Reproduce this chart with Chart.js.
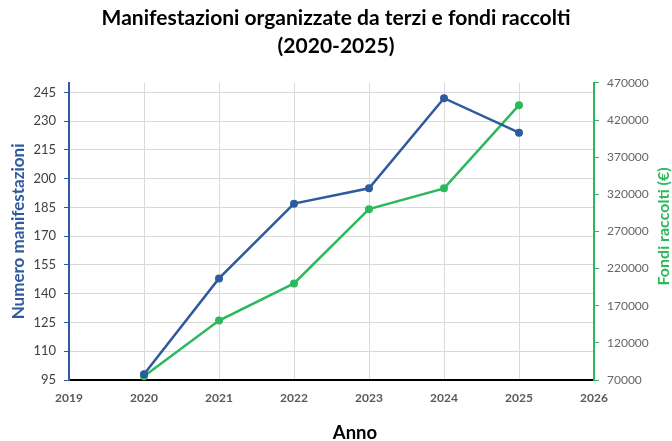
<!DOCTYPE html>
<html>
<head>
<meta charset="utf-8">
<script src="https://cdn.jsdelivr.net/npm/chart.js@4"></script>
<style>
  html, body { margin: 0; padding: 0; background: #fff; }
  #wrap { width: 672px; height: 441px; }
</style>
</head>
<body>
<div id="wrap"><canvas id="chart" width="672" height="441"></canvas></div>
<script>
// Data
const years = [2020, 2021, 2022, 2023, 2024, 2025];
const eventCounts = [98, 148, 187, 195, 242, 224];
const fundsRaised = [75000, 150000, 200000, 300000, 328000, 440000];
const leftTicks = [95, 110, 125, 140, 155, 170, 185, 200, 215, 230, 245];

const titleLines = ["Manifestazioni organizzate da terzi e fondi raccolti", "(2020-2025)"];
const blue = "#2F5A9E";
const green = "#2EB85C";
const fontFamily = "Lato, 'Open Sans', sans-serif";

// Right axis title reads bottom-to-top in the reference, and "Anno" sits a bit
// right of centre, so both are drawn by hand
const extraTitlesPlugin = {
  id: "extraTitles",
  afterDraw(chart) {
    const { ctx, chartArea } = chart;
    ctx.save();
    ctx.textAlign = "center";
    ctx.textBaseline = "middle";

    ctx.font = "bold 18.5px " + fontFamily;
    ctx.fillStyle = "#000";
    ctx.fillText("Anno", 355, 433);

    ctx.font = "bold 16px " + fontFamily;
    ctx.translate(664, (chartArea.top + chartArea.bottom) / 2 - 5);
    ctx.rotate(-Math.PI / 2);
    ctx.fillStyle = green;
    ctx.fillText("Fondi raccolti (€)", 0, 0);
    ctx.restore();
  },
};

new Chart(document.getElementById("chart"), {
  type: "line",
  data: {
    datasets: [
      {
        label: "Numero manifestazioni",
        data: years.map((y, i) => ({ x: y, y: eventCounts[i] })),
        borderColor: blue,
        backgroundColor: blue,
        borderWidth: 2.5,
        pointRadius: 4,
        pointBackgroundColor: blue,
        pointBorderWidth: 0,
        tension: 0,
        clip: false,
        yAxisID: "y",
      },
      {
        label: "Fondi raccolti (€)",
        data: years.map((y, i) => ({ x: y, y: fundsRaised[i] })),
        borderColor: green,
        backgroundColor: green,
        borderWidth: 2.5,
        pointRadius: 4,
        pointBackgroundColor: green,
        pointBorderWidth: 0,
        tension: 0,
        clip: false,
        yAxisID: "y1",
      },
    ],
  },
  options: {
    responsive: false,
    animation: false,
    layout: { padding: 0 },
    plugins: {
      legend: { display: false },
      tooltip: { enabled: false },
      title: {
        display: true,
        text: titleLines,
        color: "#000",
        font: { family: fontFamily, size: 21, weight: "bold", lineHeight: 1.33 },
        padding: { top: 4, bottom: 23 },
      },
    },
    scales: {
      x: {
        type: "linear",
        min: 2019,
        max: 2026,
        afterFit: (scale) => { scale.height = 61; },
        ticks: {
          stepSize: 1,
          padding: 11,
          color: "#595959",
          font: { family: fontFamily, size: 12, weight: "bold" },
          callback: (v) => String(v),
        },
        grid: { color: "#d9d9d9", lineWidth: 1, drawTicks: false },
        border: { color: "#000", width: 2 },
      },
      y: {
        position: "left",
        min: 95,
        max: 250,
        afterFit: (scale) => { scale.width = 69; },
        afterBuildTicks: (scale) => {
          scale.ticks = leftTicks.map((v) => ({ value: v }));
        },
        ticks: {
          padding: 8,
          color: "#404040",
          font: { family: fontFamily, size: 13 },
        },
        grid: { color: "#d9d9d9", lineWidth: 1, tickColor: blue, tickLength: 5 },
        border: { color: blue, width: 2 },
        title: {
          display: true,
          text: "Numero manifestazioni",
          color: blue,
          font: { family: fontFamily, size: 17, weight: "bold" },
          padding: { top: 8, bottom: 0 },
        },
      },
      y1: {
        position: "right",
        min: 70000,
        max: 470000,
        afterFit: (scale) => { scale.width = 78; },
        ticks: {
          stepSize: 50000,
          padding: 8,
          color: "#666",
          font: { family: fontFamily, size: 12 },
          callback: (v) => String(v),
        },
        grid: { drawOnChartArea: false, tickColor: green, tickLength: 5 },
        border: { color: green, width: 2 },
      },
    },
  },
  plugins: [extraTitlesPlugin],
});
</script>
</body>
</html>
